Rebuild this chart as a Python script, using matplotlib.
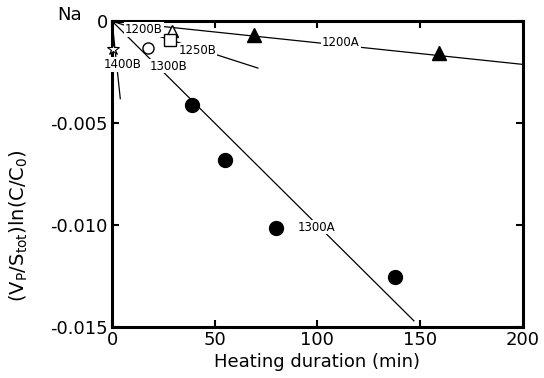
import matplotlib
matplotlib.use("Agg")
import matplotlib.pyplot as plt

# measured points (heating time in min, (Vp/Stot) ln(C/C0))
t_1200A = [69, 159]
y_1200A = [-0.00069, -0.00155]
t_1300A = [39, 55, 80, 138]
y_1300A = [-0.0041, -0.0068, -0.01015, -0.01257]
t_1200B = [29]
y_1200B = [-0.00048]
t_1250B = [28.2]
y_1250B = [-0.00094]
t_1300B = [17.7]
y_1300B = [-0.0013]
t_1400B = [0.6]
y_1400B = [-0.00135]

# fitted lines through the origin (start, end)
fit_1200A_t = [0, 200]
fit_1200A_y = [0, -0.00212]
fit_1300A_t = [0, 147]
fit_1300A_y = [0, -0.0147]
fit_1250B_t = [0, 71]
fit_1250B_y = [0, -0.0023]
fit_1400B_t = [0, 4]
fit_1400B_y = [0, -0.0038]

# series labels and where they sit
labels = ["1200B", "1250B", "1400B", "1300B", "1300A", "1200A"]
label_t = [15.6, 41.5, 5.1, 27.3, 99.5, 111.5]
label_y = [-0.0004, -0.00143, -0.00212, -0.0022, -0.0101, -0.00105]

xticks = [0, 50, 100, 150, 200]
yticks = [0, -0.005, -0.010, -0.015]
ytick_labels = ["0", "-0.005", "-0.010", "-0.015"]

fig = plt.figure(figsize=(5.44, 3.78), dpi=100)
ax = fig.add_axes([0.206, 0.135, 0.755, 0.809])

for ft, fy in [(fit_1200A_t, fit_1200A_y), (fit_1300A_t, fit_1300A_y),
               (fit_1250B_t, fit_1250B_y), (fit_1400B_t, fit_1400B_y)]:
    ax.plot(ft, fy, color="black", lw=0.9, zorder=2)

for name, tx, ty in zip(labels, label_t, label_y):
    ax.text(tx, ty, name, ha="center", va="center", fontsize=8.5, zorder=3,
            bbox=dict(facecolor="white", edgecolor="none", pad=0.5))

ax.plot(t_1300A, y_1300A, "o", ms=10, color="black", zorder=4, clip_on=False)
ax.plot(t_1200A, y_1200A, "^", ms=10, color="black", zorder=4, clip_on=False)
ax.plot(t_1200B, y_1200B, "^", ms=8, mfc="white", mec="black", mew=1, zorder=4, clip_on=False)
ax.plot(t_1250B, y_1250B, "s", ms=8, mfc="white", mec="black", mew=1, zorder=4, clip_on=False)
ax.plot(t_1300B, y_1300B, "o", ms=8, mfc="white", mec="black", mew=1, zorder=4, clip_on=False)
ax.plot(t_1400B, y_1400B, "*", ms=9, mfc="white", mec="black", mew=0.8, zorder=4, clip_on=False)

ax.set_xlim(0, 200)
ax.set_ylim(-0.015, 0)
ax.set_xticks(xticks)
ax.set_yticks(yticks)
ax.set_yticklabels(ytick_labels)
ax.tick_params(direction="in", top=True, right=True, length=5, width=1.5,
               labelsize=13, pad=3)
for s in ax.spines.values():
    s.set_linewidth(2.2)

ax.set_xlabel("Heating duration (min)", fontsize=13, labelpad=3)
ax.set_ylabel(r"(V$_\mathregular{P}$/S$_\mathregular{tot}$)ln(C/C$_\mathregular{0}$)", fontsize=14)
ax.yaxis.set_label_coords(-0.2, 0.33)

fig.text(57 / 544, 1 - 15 / 378, "Na", fontsize=13, ha="left", va="center")

fig.savefig("out.png", dpi=100)
